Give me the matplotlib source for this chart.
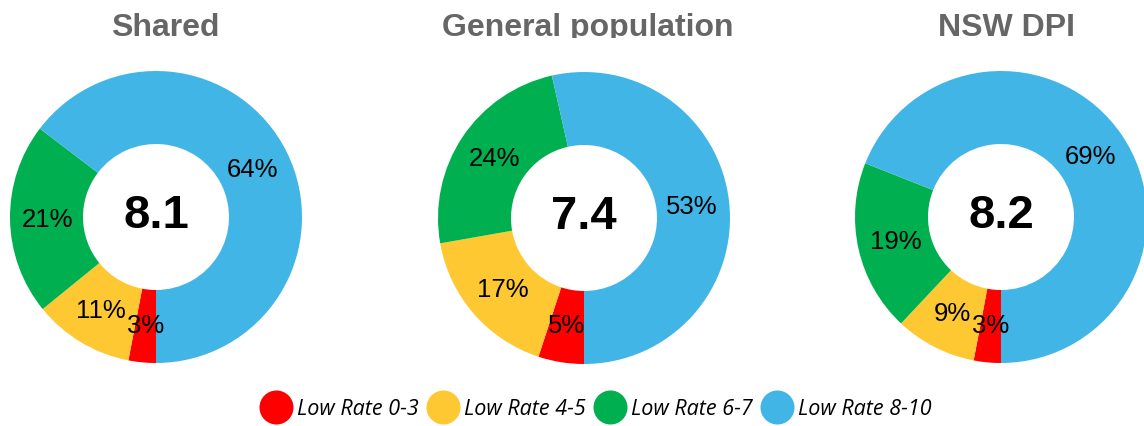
import matplotlib
matplotlib.use("Agg")
import matplotlib.pyplot as plt
from matplotlib.lines import Line2D

# ---- data ----
titles = ["Shared", "General population", "NSW DPI"]
scores = ["8.1", "7.4", "8.2"]
categories = ["Low Rate 0-3", "Low Rate 4-5", "Low Rate 6-7", "Low Rate 8-10"]
shared = [3, 11, 21, 64]
general = [5, 17, 24, 53]
nsw_dpi = [3, 9, 19, 69]
series = [shared, general, nsw_dpi]

colors = ["#FF0000", "#FDC832", "#00B050", "#41B6E6"]

W, H = 1144, 427
fig = plt.figure(figsize=(W / 100, H / 100), dpi=100)
ax = fig.add_axes([0, 0, 1, 1])

centers = [(156, H - 218), (584, H - 219), (1001, H - 218)]
R = 146

for vals, (cx, cy), score in zip(series, centers, scores):
    ax.pie(vals, colors=colors, startangle=-90, counterclock=False,
           radius=R, center=(cx, cy),
           wedgeprops=dict(width=R * 0.5, edgecolor="none", linewidth=0),
           labels=[f"{v}%" for v in vals], labeldistance=0.74,
           textprops=dict(ha="center", va="center", fontsize=18.5,
                          family="Liberation Sans", color="black"))
    ax.text(cx, cy + 2, score, ha="center", va="center", fontsize=34,
            fontweight="bold", family="Liberation Sans", color="black")

ax.set_xlim(0, W)
ax.set_ylim(0, H)
ax.set_aspect("equal")
ax.axis("off")

# titles (clipped at the bottom like the reference)
tax = fig.add_axes([0, 1 - 39 / H, 1, 39 / H])
tax.set_xlim(0, W)
tax.set_ylim(0, 39)
tax.axis("off")
title_x = [165, 588, 1006]
for t, tx in zip(titles, title_x):
    tax.text(tx, 39 - 36, t, ha="center", va="baseline", fontsize=23,
             fontweight="bold", family="Liberation Sans", color="#666666",
             clip_on=True)

handles = [Line2D([], [], linestyle="none", marker="o", markersize=24.5,
                  markerfacecolor=c, markeredgecolor="none") for c in colors]
fig.legend(handles, categories, loc="center", ncol=4,
           bbox_to_anchor=(595.5 / W, 1 - 410 / H),
           frameon=False, handlelength=1.58, handletextpad=0.19,
           columnspacing=0.33, borderpad=0, borderaxespad=0,
           prop=dict(family="Open Sans", style="italic", size=15.5))

fig.savefig("out.png", dpi=100)
